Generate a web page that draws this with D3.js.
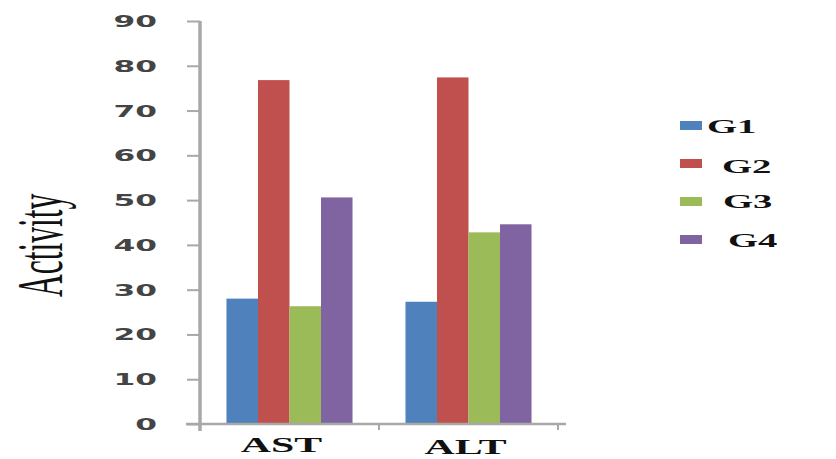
<!DOCTYPE html>
<html>
<head>
<meta charset="utf-8">
<script src="https://cdn.jsdelivr.net/npm/d3@7"></script>
<style>
html,body{margin:0;padding:0;background:#fff;}
svg{display:block;}
</style>
</head>
<body>
<svg id="chart" width="836" height="459"></svg>
<script>
const categories = ["AST", "ALT"];
const seriesNames = ["G1", "G2", "G3", "G4"];
const G1 = [28.0, 27.3];
const G2 = [76.8, 77.4];
const G3 = [26.3, 42.8];
const G4 = [50.6, 44.6];
const yTicks = [0, 10, 20, 30, 40, 50, 60, 70, 80, 90];
const colors = ["#4F81BD", "#C0504D", "#9BBB59", "#8064A2"];
const seriesValues = [G1, G2, G3, G4];

const svg = d3.select("#chart");
const axisColor = "#a8a8a8";

const y = d3.scaleLinear().domain([0, 90]).range([424, 21]);
const x0 = d3.scaleBand().domain(categories).range([200, 558]).paddingInner(0).paddingOuter(0);
const x1 = d3.scaleBand().domain(seriesNames).range([0, x0.bandwidth()]).paddingInner(0).paddingOuter(0.84);

// bars
const data = [];
categories.forEach((c, ci) => {
  seriesNames.forEach((s, si) => {
    data.push({cat: c, ser: s, val: seriesValues[si][ci], color: colors[si]});
  });
});
svg.append("g").selectAll("rect").data(data).join("rect")
  .attr("x", d => x0(d.cat) + x1(d.ser))
  .attr("y", d => y(d.val))
  .attr("width", x1.bandwidth())
  .attr("height", d => y(0) - y(d.val))
  .attr("fill", d => d.color);

// y axis
const yAxis = d3.axisLeft(y).tickValues(yTicks).tickSize(13).tickFormat("");
const gy = svg.append("g").attr("transform", "translate(200,0)").call(yAxis);
gy.select(".domain").remove();
gy.selectAll(".tick line").attr("stroke", axisColor).attr("stroke-width", 2);
gy.append("line").attr("x1", 0).attr("x2", 0).attr("y1", y(90)).attr("y2", 431)
  .attr("stroke", axisColor).attr("stroke-width", 3.5);

// y tick labels (stretched horizontally as in reference)
svg.append("g").selectAll("text").data(yTicks).join("text")
  .attr("transform", d => `translate(157,${y(d) + 6}) scale(1.95,1)`)
  .attr("text-anchor", "end")
  .attr("font-family", "DejaVu Sans")
  .attr("font-weight", "bold")
  .attr("font-size", 16)
  .attr("fill", "#444")
  .text(d => d);

// x axis
svg.append("line").attr("x1", 186).attr("x2", 566).attr("y1", y(0)).attr("y2", y(0))
  .attr("stroke", axisColor).attr("stroke-width", 2.5);
const bounds = categories.map(c => x0(c) + x0.bandwidth());
svg.append("g").selectAll("line").data(bounds).join("line")
  .attr("x1", d => d).attr("x2", d => d)
  .attr("y1", y(0)).attr("y2", y(0) + 6)
  .attr("stroke", axisColor).attr("stroke-width", 2);

// x labels
const labelDx = {AST: -8, ALT: -3};
const labelBase = {AST: 452, ALT: 454};
svg.append("g").selectAll("text").data(categories).join("text")
  .attr("transform", d => `translate(${x0(d) + x0.bandwidth() / 2 + labelDx[d]},${labelBase[d]}) scale(1.9,1)`)
  .attr("text-anchor", "middle")
  .attr("font-family", "Liberation Serif")
  .attr("font-weight", "bold")
  .attr("font-size", 22)
  .attr("fill", "#111")
  .text(d => d);

// y axis title
svg.append("text")
  .attr("transform", "translate(62,297) scale(2.1,1) rotate(-90)")
  .attr("font-family", "Liberation Serif")
  .attr("font-size", 31.5)
  .attr("fill", "#111")
  .text("Activity");

// legend
const legSwatchY = [121, 159, 197, 235];
const legTextX = [707, 722, 723, 728];
const legBase = [133, 173, 208, 247];
const lg = svg.append("g");
seriesNames.forEach((s, i) => {
  lg.append("rect").attr("x", 680).attr("y", legSwatchY[i]).attr("width", 22).attr("height", 9)
    .attr("fill", colors[i]);
  lg.append("text")
    .attr("transform", `translate(${legTextX[i]},${legBase[i]}) scale(2.15,1)`)
    .attr("font-family", "Liberation Serif")
    .attr("font-weight", "bold")
    .attr("font-size", 18)
    .attr("fill", "#111")
    .text(s);
});
</script>
</body>
</html>
